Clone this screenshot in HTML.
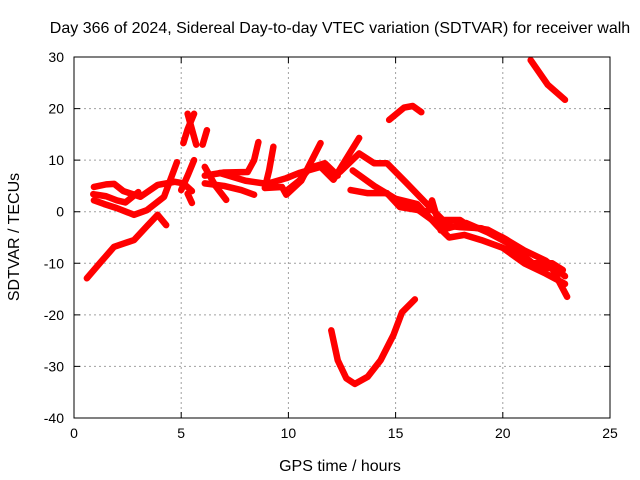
<!DOCTYPE html>
<html><head><meta charset="utf-8"><style>
body{margin:0;background:#fff}
svg{display:block;font-family:"Liberation Sans",sans-serif}
</style></head><body>
<svg id="chart" width="640" height="480" viewBox="0 0 640 480">
<rect x="0" y="0" width="640" height="480" fill="#fff"/>
<text x="340" y="33" font-size="16" text-anchor="middle">Day 366 of 2024, Sidereal Day-to-day VTEC variation (SDTVAR) for receiver walh</text>
<g id="grid"></g>
<g id="series"></g>
<g id="axes"></g>
<text x="340" y="471" font-size="16" text-anchor="middle">GPS time / hours</text>
<text x="19" y="237" font-size="16" text-anchor="middle" transform="rotate(-90 19 237)">SDTVAR / TECUs</text>
</svg>
<script>
const xTicks=[0,5,10,15,20,25];
const yTicks=[30,20,10,0,-10,-20,-30,-40];
const trackLowLeft=[[0.6,-12.9],[1.2,-10],[1.87,-6.8],[2.8,-5.5],[3.4,-2.8],[3.9,-0.6],[4.3,-2.6]];
const trackUpperLeft=[[0.93,4.8],[1.5,5.3],[1.87,5.4],[2.3,4],[3.1,2.9],[3.9,5.2],[4.7,5.8],[5.1,5.5],[5.5,4]];
const trackMidLeft=[[0.93,2.2],[1.4,1.5],[2.0,0.7],[2.8,-0.6],[3.4,0.3],[4.2,2.9],[4.8,9.6]];
const trackMid2=[[0.9,3.4],[1.5,3],[2.0,2.2],[2.4,1.8],[3.0,3.8]];
const trackSpikeA=[[5.1,13.3],[5.3,16],[5.6,19]];
const trackSpikeB=[[5.3,19],[5.5,16],[5.7,13]];
const trackSpikeC=[[6.0,13],[6.2,15.8]];
const trackRise5=[[5.0,4.2],[5.3,7],[5.6,10]];
const trackDrop5=[[5.3,3.5],[5.5,1.7]];
const trackS1=[[6.1,8.7],[6.6,5],[7.1,2.3]];
const trackS2=[[6.1,5.5],[7.0,5],[7.8,4.2],[8.4,3.3]];
const trackS3=[[6.1,7],[7.0,7.6],[8.1,7.7],[8.4,10],[8.6,13.5]];
const trackS4=[[9.3,12.6],[9.1,8],[8.9,4.6],[9.7,4.8],[9.9,3.3],[10.6,6],[11.5,13.3]];
const trackS5=[[6.8,7.5],[8.0,6],[9.0,5.4],[9.9,6.5],[10.5,7.5],[11.5,8.7],[12.1,6.2],[13.3,14.3]];
const trackS6=[[9.9,4],[10.5,6],[11.0,8.5],[11.7,9.4],[12.3,7]];
const trackMain1=[[12.4,7.7],[13.3,11.3],[14,9.4],[14.6,9.4],[15.5,5.6],[16.5,1.3],[17.2,-1.6],[18,-1.6],[18.5,-3],[19.3,-3.5],[20.2,-5.5],[20.8,-8],[21.4,-10],[22.3,-10],[22.8,-11.3]];
const trackMain2=[[12.9,4.2],[13.7,3.6],[14.6,3.6],[15.2,0.9],[16.5,0],[16.7,2.2],[17.1,-3.6],[18.3,-2.2],[19.3,-4],[20.2,-6],[20.8,-9],[21.4,-10.5],[22.3,-11],[23,-16.5]];
const trackMain3=[[13,8],[14,5],[15,2.5],[16,1.5],[17,-3],[17.5,-5],[18.2,-4.5],[19,-5.5],[20,-7],[21,-10],[22,-12],[22.9,-14]];
const trackMain4=[[15,2],[16,0.5],[17,-2.5],[18,-3],[19,-3.2],[20,-5],[21,-7.5],[22,-9.5],[22.9,-12.5]];
const trackTopRight=[[21.3,29.4],[22.1,24.6],[22.9,21.7]];
const trackTopMid=[[14.7,17.8],[15.4,20.2],[15.8,20.5],[16.2,19.3]];
const trackBottomU=[[12,-23],[12.3,-28.8],[12.7,-32.3],[13.1,-33.4],[13.7,-32],[14.3,-28.8],[14.9,-23.9],[15.3,-19.5],[15.9,-17]];
const tracks=[trackLowLeft,trackUpperLeft,trackMidLeft,trackMid2,trackSpikeA,trackSpikeB,trackSpikeC,trackRise5,trackDrop5,trackS1,trackS2,trackS3,trackS4,trackS5,trackS6,trackMain1,trackMain2,trackMain3,trackMain4,trackTopRight,trackTopMid,trackBottomU];

const X0=74,X1=610,Y0=57,Y1=418;
const sx=h=>X0+(h-0)/25*(X1-X0);
const sy=v=>Y0+(30-v)/70*(Y1-Y0);
const NS='http://www.w3.org/2000/svg';
const grid=document.getElementById('grid'),axes=document.getElementById('axes'),series=document.getElementById('series');
function mk(tag,attrs,parent){const e=document.createElementNS(NS,tag);for(const k in attrs)e.setAttribute(k,attrs[k]);parent.appendChild(e);return e;}
xTicks.forEach(t=>{
  const x=sx(t);
  if(t>0&&t<25){const g=mk('line',{x1:x,y1:Y0,x2:x,y2:Y1,stroke:'#a0a0a0','stroke-dasharray':'2,3'},grid);
  
  }
  const tk=mk('path',{d:`M${x},${Y1}v-6M${x},${Y0}v6`,stroke:'#000'},axes);
  
  
  const lb=mk('text',{x:x,y:Y1+20,'font-size':14,'text-anchor':'middle'},axes);
  lb.textContent=t;
  
  
});
yTicks.forEach(t=>{
  const y=sy(t);
  if(t<30&&t>-40){const g=mk('line',{x1:X0,y1:y,x2:X1,y2:y,stroke:'#a0a0a0','stroke-dasharray':'2,3'},grid);
  
  }
  const tk=mk('path',{d:`M${X0},${y}h6M${X1},${y}h-6`,stroke:'#000'},axes);
  
  
  const lb=mk('text',{x:X0-10,y:y+5,'font-size':14,'text-anchor':'end'},axes);
  lb.textContent=t;
  
  
});
const fr=mk('rect',{x:X0,y:Y0,width:X1-X0,height:Y1-Y0,fill:'none',stroke:'#000'},axes);


tracks.forEach(tr=>{
  const p=mk('polyline',{points:tr.map(d=>sx(d[0])+','+sy(d[1])).join(' '),fill:'none',stroke:'#ff0000','stroke-width':6.5,'stroke-linejoin':'round','stroke-linecap':'round'},series);
  
  
});
</script>
</body></html>
